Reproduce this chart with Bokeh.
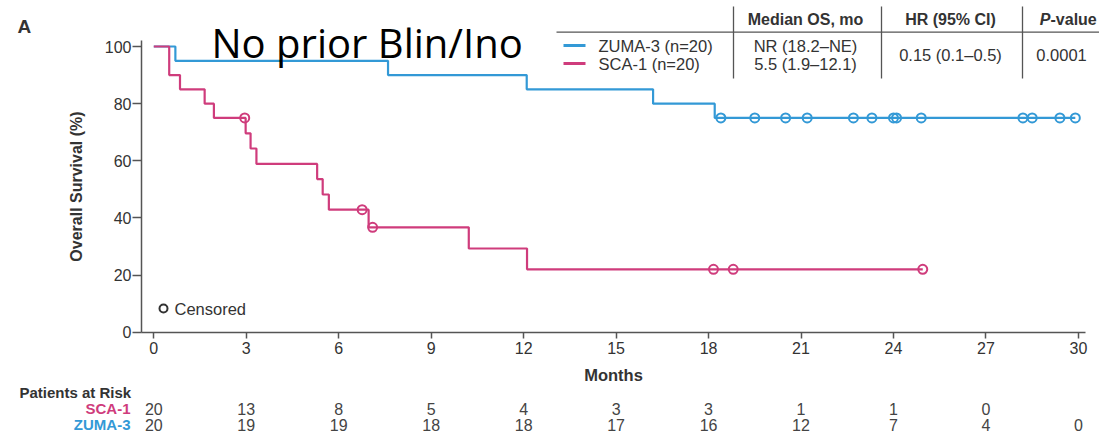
from bokeh.plotting import figure
from bokeh.models import Range1d, Label, LabelSet, ColumnDataSource, FixedTicker, LinearAxis
from bokeh.embed import file_html
from bokeh.resources import INLINE
from bokeh.core.properties import value

# ---------------- data ----------------
zuma_times = [0, 0.7, 7.6, 12.1, 16.2, 18.2]
zuma_surv = [100, 95, 90, 85, 80, 75]
zuma_last = 29.9
zuma_cens_t = [18.4, 19.5, 20.5, 21.2, 22.7, 23.3, 24.0, 24.1, 24.9, 28.2, 28.5, 29.4, 29.9]
zuma_cens_s = [75, 75, 75, 75, 75, 75, 75, 75, 75, 75, 75, 75, 75]

sca_times = [0, 0.5, 0.85, 1.65, 1.95, 2.98, 3.14, 3.33, 5.3, 5.48, 5.68, 6.97, 10.22, 12.11]
sca_surv = [100, 90, 85, 80, 75, 69.6, 64.3, 58.9, 53.6, 48.2, 42.9, 36.7, 29.3, 22.0]
sca_last = 24.95
sca_cens_t = [2.95, 6.76, 7.1, 18.16, 18.8, 24.95]
sca_cens_s = [75, 42.9, 36.7, 22.0, 22.0, 22.0]

month_ticks = [0, 3, 6, 9, 12, 15, 18, 21, 24, 27, 30]
surv_ticks = [0, 20, 40, 60, 80, 100]
risk_months_sca = [0, 3, 6, 9, 12, 15, 18, 21, 24, 27]
risk_sca = [20, 13, 8, 5, 4, 3, 3, 1, 1, 0]
risk_months_zuma = [0, 3, 6, 9, 12, 15, 18, 21, 24, 27, 30]
risk_zuma = [20, 19, 19, 18, 18, 17, 16, 12, 7, 4, 0]

table_rows = ["ZUMA-3 (n=20)", "SCA-1 (n=20)"]
table_median = ["NR (18.2\u2013NE)", "5.5 (1.9\u201312.1)"]
table_hr = "0.15 (0.1\u20130.5)"
table_p = "0.0001"

BLUE = "#3399d6"
PINK = "#cf3c7c"
GREY = "#555555"
TXT = "#333333"
FONT = "Liberation Sans"

# ---------------- layout helpers (page px -> data) ----------------
X0_PAGE, X_PX = 153.3, 30.82
Y0_PAGE, Y_PX = 331.7, 2.857


def px(xp):
    return (xp - X0_PAGE) / X_PX


def py(yp):
    return (Y0_PAGE - yp) / Y_PX


W, H = 1099, 436
p = figure(width=W, height=H, output_backend="svg", toolbar_location=None,
           x_range=Range1d(px(0), px(W)), y_range=Range1d(py(H), py(0)),
           x_axis_type=None, y_axis_type=None,
           min_border_left=0, min_border_right=0, min_border_top=0, min_border_bottom=0)
p.outline_line_color = None
p.xgrid.visible = False
p.ygrid.visible = False
p.background_fill_color = "white"

# axes, placed at fixed positions inside the canvas
xaxis = LinearAxis(fixed_location=0, ticker=FixedTicker(ticks=month_ticks),
                   bounds=(px(141), px(1085)))
yaxis = LinearAxis(fixed_location=px(141), ticker=FixedTicker(ticks=surv_ticks),
                   bounds=(0, py(40)))
for ax in (xaxis, yaxis):
    ax.axis_line_color = GREY
    ax.axis_line_width = 1.5
    ax.major_tick_line_color = GREY
    ax.major_tick_line_width = 1.5
    ax.major_tick_in = 0
    ax.minor_tick_line_color = None
    ax.major_label_text_font = FONT
    ax.major_label_text_font_size = "16px"
    ax.major_label_text_color = TXT
    ax.axis_label_text_font = FONT
    ax.axis_label_text_font_style = "bold"
    ax.axis_label_text_color = TXT
xaxis.major_tick_out = 6
yaxis.major_tick_out = 9
xaxis.major_label_standoff = 4
yaxis.major_label_standoff = 1
xaxis.axis_label = "Months"
xaxis.axis_label_text_font_size = "16.5px"
xaxis.axis_label_standoff = 8
yaxis.axis_label = "Overall Survival (%)"
yaxis.axis_label_text_font_size = "16px"
yaxis.axis_label_standoff = 17
p.add_layout(xaxis, "below")
p.add_layout(yaxis, "left")

# curves
p.step(zuma_times + [zuma_last], zuma_surv + [zuma_surv[-1]], mode="after",
       line_color=BLUE, line_width=2.2)
p.step(sca_times + [sca_last], sca_surv + [sca_surv[-1]], mode="after",
       line_color=PINK, line_width=2.2)
p.scatter(zuma_cens_t, zuma_cens_s, marker="circle", size=9, fill_alpha=0,
          line_color=BLUE, line_width=2)
p.scatter(sca_cens_t, sca_cens_s, marker="circle", size=9, fill_alpha=0,
          line_color=PINK, line_width=2)

# censored key
p.scatter([px(163)], [py(308)], marker="circle", size=8, fill_alpha=0,
          line_color=TXT, line_width=2)
p.add_layout(Label(x=px(174), y=py(308), text="Censored", text_font=FONT,
                   text_font_size="16.5px", text_color=TXT, text_baseline="middle"))

# title + panel letter
p.add_layout(Label(x=px(211), y=py(42), text="No prior Blin/Ino", text_font="Open Sans",
                   text_font_size="40px", text_color="black", text_baseline="alphabetic"))
p.add_layout(Label(x=px(17), y=py(26), text="A", text_font=FONT, text_font_style="bold",
                   text_font_size="19px", text_color=TXT, text_baseline="alphabetic"))

# table at top right
p.segment(x0=[px(556)], y0=[py(31.7)], x1=[px(1099)], y1=[py(31.7)],
          line_color=GREY, line_width=1.3)
sep_x = [px(733), px(881), px(1022)]
p.segment(x0=sep_x, y0=[py(78)] * 3, x1=sep_x, y1=[py(6)] * 3,
          line_color=GREY, line_width=1.3)
hdr_y = py(18.5)
for txt, xc in (("Median OS, mo", 805), ("HR (95% CI)", 950)):
    p.add_layout(Label(x=px(xc), y=hdr_y, text=txt, text_font=FONT, text_font_style="bold",
                       text_font_size="16px", text_color=TXT, text_align="center",
                       text_baseline="middle"))
p.add_layout(Label(x=px(1050), y=hdr_y, text="P", text_font=FONT, text_font_style="bold italic",
                   text_font_size="16px", text_color=TXT, text_align="right",
                   text_baseline="middle"))
p.add_layout(Label(x=px(1050), y=hdr_y, text="-value", text_font=FONT, text_font_style="bold",
                   text_font_size="16px", text_color=TXT, text_align="left",
                   text_baseline="middle"))
row_y = [py(45), py(63)]
for i, (name, med, col) in enumerate(zip(table_rows, table_median, [BLUE, PINK])):
    p.segment(x0=[px(563)], y0=[row_y[i]], x1=[px(585)], y1=[row_y[i]],
              line_color=col, line_width=3)
    p.add_layout(Label(x=px(598), y=row_y[i], text=name, text_font=FONT,
                       text_font_size="16.5px", text_color=TXT, text_baseline="middle"))
    p.add_layout(Label(x=px(805), y=row_y[i], text=med, text_font=FONT,
                       text_font_size="16.5px", text_color=TXT, text_align="center",
                       text_baseline="middle"))
p.add_layout(Label(x=px(950), y=py(54), text=table_hr, text_font=FONT,
                   text_font_size="16.5px", text_color=TXT, text_align="center",
                   text_baseline="middle"))
p.add_layout(Label(x=px(1061), y=py(54), text=table_p, text_font=FONT,
                   text_font_size="16.5px", text_color=TXT, text_align="center",
                   text_baseline="middle"))

# patients at risk
p.add_layout(Label(x=px(19), y=py(392), text="Patients at Risk", text_font=FONT,
                   text_font_style="bold", text_font_size="15px", text_color=TXT,
                   text_baseline="middle"))
p.add_layout(Label(x=px(130), y=py(408), text="SCA-1", text_font=FONT, text_font_style="bold",
                   text_font_size="15px", text_color=PINK, text_align="right",
                   text_baseline="middle"))
p.add_layout(Label(x=px(130), y=py(424), text="ZUMA-3", text_font=FONT, text_font_style="bold",
                   text_font_size="15px", text_color=BLUE, text_align="right",
                   text_baseline="middle"))
src_sca = ColumnDataSource(dict(x=risk_months_sca, y=[py(408)] * len(risk_sca),
                                t=[str(v) for v in risk_sca]))
src_zuma = ColumnDataSource(dict(x=risk_months_zuma, y=[py(424)] * len(risk_zuma),
                                 t=[str(v) for v in risk_zuma]))
for src in (src_sca, src_zuma):
    p.add_layout(LabelSet(x="x", y="y", text="t", source=src, text_font=value(FONT),
                          text_font_size="16px", text_color="#444444", text_align="center",
                          text_baseline="middle"))

open("out.html", "w").write(file_html(p, INLINE))
